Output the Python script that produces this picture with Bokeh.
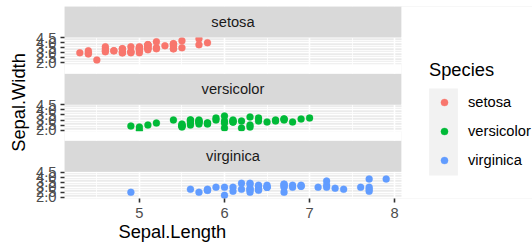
from bokeh.plotting import figure
from bokeh.models import Range1d, FixedTicker, Legend, LegendItem, Title
from bokeh.embed import file_html
from bokeh.resources import INLINE
from bokeh.core.properties import value

species = ["setosa", "versicolor", "virginica"]
colors = ["#F8766D", "#00BA38", "#619CFF"]

setosa_length = [5.1, 4.9, 4.7, 4.6, 5.0, 5.4, 4.6, 5.0, 4.4, 4.9, 5.4, 4.8, 4.8, 4.3, 5.8, 5.7, 5.4, 5.1, 5.7, 5.1,
                 5.4, 5.1, 4.6, 5.1, 4.8, 5.0, 5.0, 5.2, 5.2, 4.7, 4.8, 5.4, 5.2, 5.5, 4.9, 5.0, 5.5, 4.9, 4.4, 5.1,
                 5.0, 4.5, 4.4, 5.0, 5.1, 4.8, 5.1, 4.6, 5.3, 5.0]
setosa_width = [3.5, 3.0, 3.2, 3.1, 3.6, 3.9, 3.4, 3.4, 2.9, 3.1, 3.7, 3.4, 3.0, 3.0, 4.0, 4.4, 3.9, 3.5, 3.8, 3.8,
                3.4, 3.7, 3.6, 3.3, 3.4, 3.0, 3.4, 3.5, 3.4, 3.2, 3.1, 3.4, 4.1, 4.2, 3.1, 3.2, 3.5, 3.6, 3.0, 3.4,
                3.5, 2.3, 3.2, 3.5, 3.8, 3.0, 3.8, 3.2, 3.7, 3.3]
versicolor_length = [7.0, 6.4, 6.9, 5.5, 6.5, 5.7, 6.3, 4.9, 6.6, 5.2, 5.0, 5.9, 6.0, 6.1, 5.6, 6.7, 5.6, 5.8, 6.2, 5.6,
                     5.9, 6.1, 6.3, 6.1, 6.4, 6.6, 6.8, 6.7, 6.0, 5.7, 5.5, 5.5, 5.8, 6.0, 5.4, 6.0, 6.7, 6.3, 5.6, 5.5,
                     5.5, 6.1, 5.8, 5.0, 5.6, 5.7, 5.7, 6.2, 5.1, 5.7]
versicolor_width = [3.2, 3.2, 3.1, 2.3, 2.8, 2.8, 3.3, 2.4, 2.9, 2.7, 2.0, 3.0, 2.2, 2.9, 2.9, 3.1, 3.0, 2.7, 2.2, 2.5,
                    3.2, 2.8, 2.5, 2.8, 2.9, 3.0, 2.8, 3.0, 2.9, 2.6, 2.4, 2.4, 2.7, 2.7, 3.0, 3.4, 3.1, 2.3, 3.0, 2.5,
                    2.6, 3.0, 2.6, 2.3, 2.7, 3.0, 2.9, 2.9, 2.5, 2.8]
virginica_length = [6.3, 5.8, 7.1, 6.3, 6.5, 7.6, 4.9, 7.3, 6.7, 7.2, 6.5, 6.4, 6.8, 5.7, 5.8, 6.4, 6.5, 7.7, 7.7, 6.0,
                    6.9, 5.6, 7.7, 6.3, 6.7, 7.2, 6.2, 6.1, 6.4, 7.2, 7.4, 7.9, 6.4, 6.3, 6.1, 7.7, 6.3, 6.4, 6.0, 6.9,
                    6.7, 6.9, 5.8, 6.8, 6.7, 6.7, 6.3, 6.5, 6.2, 5.9]
virginica_width = [3.3, 2.7, 3.0, 2.9, 3.0, 3.0, 2.5, 2.9, 2.5, 3.6, 3.2, 2.7, 3.0, 2.5, 2.8, 3.2, 3.0, 3.8, 2.6, 2.2,
                   3.2, 2.8, 2.8, 2.7, 3.3, 3.2, 2.8, 3.0, 2.8, 3.0, 2.8, 3.8, 2.8, 2.8, 2.6, 3.0, 3.4, 3.1, 3.0, 3.1,
                   3.1, 3.1, 2.7, 3.2, 3.3, 3.0, 2.5, 3.0, 3.4, 3.0]

y_ticks = [2.0, 2.5, 3.0, 3.5, 4.0, 4.5]
y_tick_labels = ["2.0", "2.5", "3.0", "3.5", "4.0", "4.5"]
x_ticks = [5, 6, 7, 8]

lengths = [setosa_length, versicolor_length, virginica_length]
widths = [setosa_width, versicolor_width, virginica_width]

# ---- layout (pixels) ----
W, H = 532, 238
MB_L, MB_T, MB_B = 64, 0, 46
panel_w_px = 337.0
frame_w = W - MB_L
frame_h = H - MB_T - MB_B
strip_px, panel_px = 31.0, 26.7
gap_px = (frame_h - 3 * (strip_px + panel_px)) / 2

all_x = [v for arr in lengths for v in arr]
all_y = [v for arr in widths for v in arr]
xmin, xmax = min(all_x), max(all_x)
xpad = 0.05 * (xmax - xmin)
x0, x1 = xmin - xpad, xmax + xpad
x_end = x0 + (x1 - x0) * frame_w / panel_w_px
ymin, ymax = min(all_y), max(all_y)
ypad = 0.05 * (ymax - ymin)
ylo, yhi = ymin - ypad, ymax + ypad
span = yhi - ylo
k = span / panel_px
strip_u = strip_px * k
gap_u = gap_px * k
step = span + strip_u + gap_u
offsets = [round(2 * step, 6), round(step, 6), 0.0]
y_top = yhi + offsets[0] + strip_u

p = figure(width=W, height=H, x_range=Range1d(x0, x_end),
           y_range=Range1d(ylo, y_top),
           output_backend="svg", toolbar_location=None,
           min_border_left=MB_L, min_border_right=0,
           min_border_top=MB_T, min_border_bottom=MB_B,
           background_fill_color="#EBEBEB", border_fill_color="white",
           outline_line_color=None, margin=(6, 0, 0, 0))

# grids
minor_x = [t - 0.5 for t in x_ticks if t - 0.5 > x0]
p.xgrid.ticker = FixedTicker(ticks=x_ticks, minor_ticks=minor_x)
all_yt, all_ym, overrides = [], [], {}
for off in offsets:
    for t, lab in zip(y_ticks, y_tick_labels):
        v = round(t + off, 6)
        all_yt.append(v)
        overrides[v] = lab
    for a, b in zip(y_ticks[:-1], y_ticks[1:]):
        all_ym.append(round((a + b) / 2 + off, 6))
p.ygrid.ticker = FixedTicker(ticks=all_yt, minor_ticks=all_ym)
for g in (p.xgrid, p.ygrid):
    g.grid_line_color = "white"
    g.grid_line_width = 1.6
    g.minor_grid_line_color = "white"
    g.minor_grid_line_width = 0.8

# points
rends = []
for s, c, xs, ys, off in zip(species, colors, lengths, widths, offsets):
    r = p.scatter(x=xs, y=[v + off for v in ys], size=7, fill_color=c, line_color=c, line_width=0.3)
    rends.append(r)

# strips, gaps, legend area
p.quad(left=[x0] * 3, right=[x1] * 3, bottom=[yhi + o for o in offsets],
       top=[yhi + o + strip_u for o in offsets], fill_color="#D9D9D9", line_color=None)
p.quad(left=[x0] * 2, right=[x1] * 2, bottom=[yhi + o + strip_u for o in offsets[1:]],
       top=[ylo + o for o in offsets[:2]], fill_color="white", line_color=None)
p.quad(left=[x1], right=[x_end], bottom=[ylo], top=[y_top], fill_color="white", line_color=None)
p.text(x=[(x0 + x1) / 2] * 3, y=[yhi + o + strip_u / 2 for o in offsets], text=species,
       text_align="center", text_baseline="middle", text_font=value("Liberation Sans"),
       text_font_size="14.7px", text_color="#1A1A1A")

# axes
p.xaxis.ticker = FixedTicker(ticks=x_ticks)
p.yaxis.ticker = FixedTicker(ticks=all_yt)
p.yaxis.major_label_overrides = overrides
p.yaxis.axis_label = "Sepal.Width"
for ax in (p.xaxis[0], p.yaxis[0]):
    ax.axis_line_color = None
    ax.major_tick_line_color = "#333333"
    ax.major_tick_line_width = 1.6
    ax.major_tick_out = 4
    ax.major_tick_in = 0
    ax.minor_tick_line_color = None
    ax.major_label_text_font = "Liberation Sans"
    ax.major_label_text_font_size = "14.7px"
    ax.major_label_text_color = "#4D4D4D"
    ax.axis_label_text_font = "Liberation Sans"
    ax.axis_label_text_font_size = "18.3px"
    ax.axis_label_text_font_style = "normal"
    ax.axis_label_text_color = "black"
p.yaxis.major_label_standoff = 4
p.yaxis.axis_label_standoff = 4
p.xaxis.major_label_standoff = 5

xtitle = Title(text="Sepal.Length", align="left", offset=54, text_font="Liberation Sans",
               text_font_size="18.3px", text_font_style="normal", text_color="black", standoff=-3)
p.add_layout(xtitle, "below")

# legend key background (zero-size proxy glyph, only used for its legend swatch)
bg = p.quad(left=[x0], right=[x0], top=[ylo], bottom=[ylo], fill_color="#F2F2F2", line_color=None)
legA = Legend(items=[LegendItem(label=" ", renderers=[bg])], location=(361, 12.5),
              glyph_width=36, glyph_height=109, padding=0, margin=0, spacing=0,
              border_line_color=None, background_fill_alpha=0, label_standoff=0,
              label_text_font_size="1px")
p.add_layout(legA)
legB = Legend(items=[LegendItem(label=s, renderers=[r]) for s, r in zip(species, rends)],
              location=(365, 29), title="Species", title_text_font_size="18.3px",
              title_text_font_style="normal", title_text_color="black",
              title_text_font="Liberation Sans", title_standoff=12,
              glyph_width=30, glyph_height=18, label_height=18, label_standoff=9,
              spacing=11, padding=0, margin=0, border_line_color=None,
              background_fill_alpha=0, label_text_font_size="14.7px",
              label_text_color="black", label_text_font="Liberation Sans")
p.add_layout(legB)

open("out.html", "w").write(file_html(p, INLINE))
